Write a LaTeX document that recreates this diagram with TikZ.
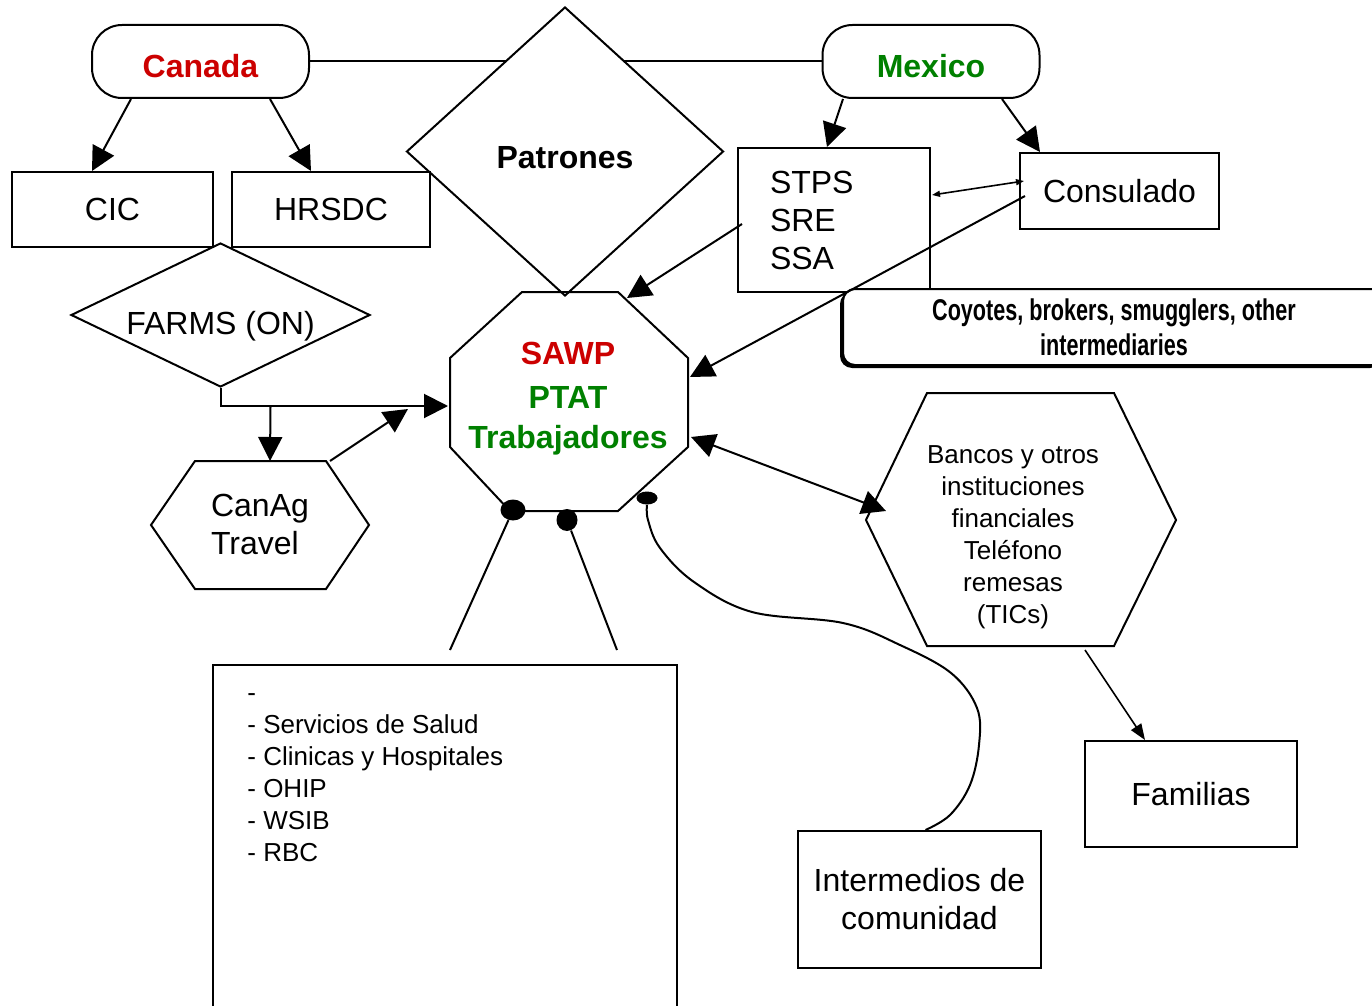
\documentclass[tikz,border=0pt]{standalone}
\usepackage{fontspec}
\setmainfont{Liberation Sans}
\usetikzlibrary{arrows.meta,positioning,calc,shapes.geometric,shadows}

\definecolor{sawpred}{RGB}{204,0,0}
\definecolor{ptatgreen}{RGB}{0,128,0}

\tikzset{every node/.style={font=\fontsize{16}{19}\selectfont}, % Arial-sized text everywhere
        box/.style={ % Plain framed boxes
            draw, line width=1pt, fill=white, inner sep=0pt},
        country/.style={ % Rounded boxes for the two countries
            box, rounded corners=15pt, text height=16pt, text depth=0pt,
            minimum width=108.5pt, minimum height=36.5pt,
            font=\fontsize{16}{19}\selectfont\bfseries},
        rhombus/.style={box, diamond},
        ghost/.style={inner sep=0pt}, % Text only, the outline is drawn by hand
        outline/.style={draw, line width=1pt},
        dot/.style={ellipse, fill=black, inner sep=0pt},
        link/.style={draw, line width=1pt},
        bigtip/.style={ % Large filled heads
            link, -{Triangle[length=12pt,width=12pt]}},
        bigboth/.style={link, {Triangle[length=12pt,width=12pt]}-{Triangle[length=12pt,width=12pt]}},
        midtip/.style={link, line width=0.8pt, -{Triangle[length=8pt,width=6pt]}},
        smallboth/.style={link, line width=0.8pt, {Triangle[length=4pt,width=3pt]}-{Triangle[length=4pt,width=3pt]}}
        }

\begin{document}
\begin{tikzpicture}[x=0.5pt, y=-0.5pt]
    \useasboundingbox (0,0) rectangle (1372,1006);

    % the two countries
    \node[country, text=sawpred] (canada) at (200.5,61.5) {Canada};
    \node[country, text=ptatgreen] (mexico) at (931,61.5) {Mexico};
    \draw[link] (canada) -- (mexico);
    \node[rhombus, minimum width=158.5pt, minimum height=144.5pt, text height=17pt, text depth=0pt,
          font=\fontsize{16}{19}\selectfont\bfseries] (patrones) at (565,151.5) {Patrones};

    % Canadian side
    \node[box, minimum width=100.5pt, minimum height=37.5pt] (cic) at (112.5,209.5) {CIC};
    \node[box, minimum width=99pt, minimum height=37.5pt, right=8.5pt of cic] (hrsdc) {HRSDC};
    \node[rhombus, aspect=2.08, minimum width=149.5pt, minimum height=72pt, text height=19.5pt,
          text depth=0pt] (farms) at (220.5,315) {FARMS (ON)};
    \node[ghost, align=left] (canag) at (260,524) {CanAg\\Travel};
    \draw[outline] ($(canag)+(-109,1)$) -- ($(canag)+(-65,-63)$) -- ($(canag)+(66,-63)$)
        -- ($(canag)+(109,1)$) -- ($(canag)+(66,65)$) -- ($(canag)+(-65,65)$) -- cycle;

    % workers
    \node[ghost, align=center, font=\fontsize{16}{19}\selectfont\bfseries] (sawp) at (568,399)
        {\textcolor{sawpred}{SAWP}\\[3pt]\textcolor{ptatgreen}{PTAT}\\[1pt]\textcolor{ptatgreen}{Trabajadores}};
    \draw[outline] ($(sawp)+(-46,-107)$) -- ($(sawp)+(50,-107)$) -- ($(sawp)+(120,-41)$)
        -- ($(sawp)+(120,48)$) -- ($(sawp)+(50,112)$) -- ($(sawp)+(-58,112)$)
        -- ($(sawp)+(-118,48)$) -- ($(sawp)+(-118,-41)$) -- cycle;

    % Mexican side
    \node[box, minimum width=96pt, minimum height=72pt, text width=64pt, inner xsep=16pt,
          align=left] (stps) at (834,220) {STPS\\SRE\\SSA};
    \node[box, minimum width=99.5pt, minimum height=38pt] (consulado) at (1119.5,191) {Consulado};
    \node[box, rounded corners=6pt, minimum width=271pt, minimum height=38pt, align=center,
          drop shadow={shadow xshift=-1.5pt, shadow yshift=-1.5pt, opacity=1, fill=black},
          font=\fontsize{15}{17.5}\selectfont\bfseries] (coyotes) at (1114,327)
        {\scalebox{0.72}[1]{Coyotes, brokers, smugglers, other}\\\scalebox{0.72}[1]{intermediaries}};

    % money and families
    \node[ghost, align=center, font=\fontsize{13}{16}\selectfont] (bancos) at (1013,537)
        {Bancos y otros\\instituciones\\financiales\\Teléfono\\remesas\\(TICs)};
    \draw[outline] ($(bancos)+(-147,-17)$) -- ($(bancos)+(-86,-144)$) -- ($(bancos)+(101,-144)$)
        -- ($(bancos)+(163,-17)$) -- ($(bancos)+(101,109)$) -- ($(bancos)+(-86,109)$) -- cycle;
    \node[box, minimum width=106pt, minimum height=53pt] (familias) at (1191,794) {Familias};
    \node[box, minimum width=121.5pt, minimum height=68.5pt, align=center] (inter) at (919.5,899.5)
        {Intermedios de\\comunidad};

    % services
    \node[box, minimum width=232pt, minimum height=175pt] (servbox) at (445,840) {};
    \node[ghost, align=left, font=\fontsize{13}{16}\selectfont,
          below right=7.5pt and 17.5pt of servbox.north west] (servlist)
        {\strut-\\- Servicios de Salud\\- Clinicas y Hospitales\\- OHIP\\- WSIB\\- RBC};

    % arrows
    \draw[bigtip] ($(canada.south)+(-69.5,0)$) -- ($(cic.north)+(-20.5,0)$);
    \draw[bigtip] ($(canada.south)+(69.5,0)$) -- ($(hrsdc.north)+(-20,0)$);
    \draw[bigtip] ($(mexico.south)+(-88,0)$) -- ($(stps.north)+(-7,0)$);
    \draw[bigtip] ($(mexico.south)+(71,0)$) -- ($(consulado.north)+(-79.5,0)$);
    \draw[smallboth] ($(stps.east)+(1,-25)$) -- ($(consulado.west)+(5,-10)$);
    \draw[bigtip] ($(stps.west)+(5,4)$) -- ($(sawp)+(59,-101)$);
    \draw[bigtip] ($(consulado.west)+(6,5)$) -- ($(sawp)+(122,-22)$);

    \draw[bigtip] (farms.south) |- ($(sawp)+(-120,7)$);
    \coordinate (split) at ($(farms.south)+(50,19)$);
    \draw[bigtip] (split) -- ($(canag)+(10,-63)$);
    \coordinate (agtip) at (408,409);
    \draw[bigtip] ($(canag)+(70,-63)$) -- (agtip);

    \draw[bigboth] ($(sawp)+(123,38)$) -- ($(bancos)+(-127,-26)$);
    \draw[midtip] ($(bancos)+(72,113)$) -- ($(familias.north)+(-46,0)$);

    % dots under the workers
    \node[dot, minimum width=12.5pt, minimum height=10.5pt] (dota) at (513,510) {};
    \node[dot, minimum width=10.5pt, minimum height=11pt] (dotb) at (567,520) {};
    \node[dot, minimum width=10.5pt, minimum height=6.5pt] (dotc) at (647,498) {};
    \coordinate (enda) at (450,650);
    \coordinate (endb) at (617,650);
    \draw[link] (dota) -- (enda);
    \draw[link] (dotb) -- (endb);
    \draw[link] plot[smooth, tension=0.6] coordinates {(dotc.south) (648,520) (660,548) (694,582)
        (752,612) (843,623) (900,645) (951,673) (977,708) (979,745) (970,785) (950,815)
        ([xshift=3pt]inter.north)};
\end{tikzpicture}
\end{document}
